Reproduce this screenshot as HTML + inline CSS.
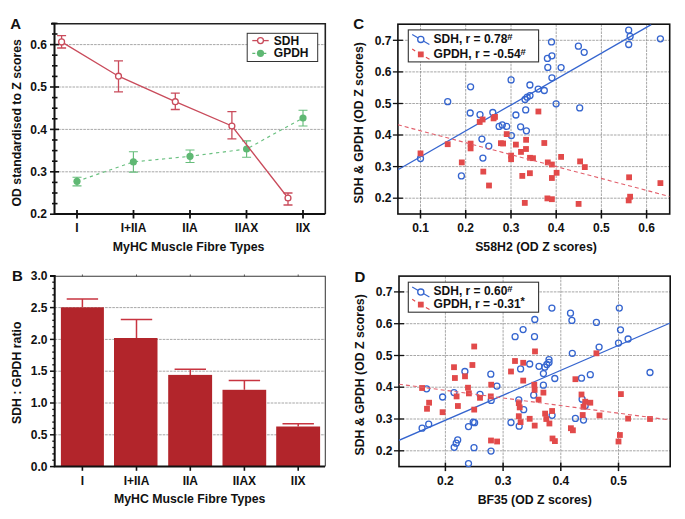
<!DOCTYPE html><html><head><meta charset="utf-8"><style>html,body{margin:0;padding:0;background:#fff;}svg{display:block;}</style></head><body>
<svg width="685" height="519" viewBox="0 0 685 519" font-family='"Liberation Sans", sans-serif' font-weight="bold" fill="#111">
<line x1="54.5" y1="171.8" x2="325.3" y2="171.8" stroke="#8a8a8a" stroke-width="0.75" stroke-dasharray="2.6,1"/>
<line x1="54.5" y1="129.4" x2="325.3" y2="129.4" stroke="#8a8a8a" stroke-width="0.75" stroke-dasharray="2.6,1"/>
<line x1="54.5" y1="87.0" x2="325.3" y2="87.0" stroke="#8a8a8a" stroke-width="0.75" stroke-dasharray="2.6,1"/>
<line x1="54.5" y1="44.6" x2="325.3" y2="44.6" stroke="#8a8a8a" stroke-width="0.75" stroke-dasharray="2.6,1"/>
<path d="M54.5 23.8H325.3V214" fill="none" stroke="#222" stroke-width="1.6"/>
<path d="M51 23.8H54.5V214H325.3" fill="none" stroke="#111" stroke-width="2"/>
<line x1="50" y1="214.2" x2="59" y2="214.2" stroke="#111" stroke-width="1.6"/>
<line x1="52" y1="203.6" x2="57.5" y2="203.6" stroke="#111" stroke-width="1.6"/>
<line x1="52" y1="193.0" x2="57.5" y2="193.0" stroke="#111" stroke-width="1.6"/>
<line x1="52" y1="182.4" x2="57.5" y2="182.4" stroke="#111" stroke-width="1.6"/>
<line x1="50" y1="171.8" x2="59" y2="171.8" stroke="#111" stroke-width="1.6"/>
<line x1="52" y1="161.2" x2="57.5" y2="161.2" stroke="#111" stroke-width="1.6"/>
<line x1="52" y1="150.6" x2="57.5" y2="150.6" stroke="#111" stroke-width="1.6"/>
<line x1="52" y1="140.0" x2="57.5" y2="140.0" stroke="#111" stroke-width="1.6"/>
<line x1="50" y1="129.4" x2="59" y2="129.4" stroke="#111" stroke-width="1.6"/>
<line x1="52" y1="118.8" x2="57.5" y2="118.8" stroke="#111" stroke-width="1.6"/>
<line x1="52" y1="108.2" x2="57.5" y2="108.2" stroke="#111" stroke-width="1.6"/>
<line x1="52" y1="97.6" x2="57.5" y2="97.6" stroke="#111" stroke-width="1.6"/>
<line x1="50" y1="87.0" x2="59" y2="87.0" stroke="#111" stroke-width="1.6"/>
<line x1="52" y1="76.4" x2="57.5" y2="76.4" stroke="#111" stroke-width="1.6"/>
<line x1="52" y1="65.8" x2="57.5" y2="65.8" stroke="#111" stroke-width="1.6"/>
<line x1="52" y1="55.2" x2="57.5" y2="55.2" stroke="#111" stroke-width="1.6"/>
<line x1="50" y1="44.6" x2="59" y2="44.6" stroke="#111" stroke-width="1.6"/>
<line x1="52" y1="34.0" x2="57.5" y2="34.0" stroke="#111" stroke-width="1.6"/>
<line x1="52" y1="23.4" x2="57.5" y2="23.4" stroke="#111" stroke-width="1.6"/>
<line x1="77" y1="210" x2="77" y2="218.5" stroke="#111" stroke-width="1.8"/>
<line x1="133.5" y1="210" x2="133.5" y2="218.5" stroke="#111" stroke-width="1.8"/>
<line x1="190" y1="210" x2="190" y2="218.5" stroke="#111" stroke-width="1.8"/>
<line x1="246.5" y1="210" x2="246.5" y2="218.5" stroke="#111" stroke-width="1.8"/>
<line x1="303" y1="210" x2="303" y2="218.5" stroke="#111" stroke-width="1.8"/>
<text x="47" y="218.4" font-size="12" text-anchor="end" >0.2</text>
<text x="47" y="176.0" font-size="12" text-anchor="end" >0.3</text>
<text x="47" y="133.6" font-size="12" text-anchor="end" >0.4</text>
<text x="47" y="91.2" font-size="12" text-anchor="end" >0.5</text>
<text x="47" y="48.8" font-size="12" text-anchor="end" >0.6</text>
<text x="77" y="231.8" font-size="12" text-anchor="middle" >I</text>
<text x="133.5" y="231.8" font-size="12" text-anchor="middle" >I+IIA</text>
<text x="190" y="231.8" font-size="12" text-anchor="middle" >IIA</text>
<text x="246.5" y="231.8" font-size="12" text-anchor="middle" >IIAX</text>
<text x="303" y="231.8" font-size="12" text-anchor="middle" >IIX</text>
<text x="188.6" y="251" font-size="12.3" text-anchor="middle" >MyHC Muscle Fibre Types</text>
<text transform="translate(21.2,122.8) rotate(-90)" font-size="12.3" text-anchor="middle">OD standardised to Z scores</text>
<text x="10.2" y="28.8" font-size="15" text-anchor="start" >A</text>
<polyline points="77,181.3 133.4,161.9 190,156.3 246.6,149 303,118" fill="none" stroke="#6ac080" stroke-width="1.15" stroke-dasharray="3.2,3.6"/>
<path d="M77 177.2V185.8M72.5 177.2H81.5M72.5 185.8H81.5" stroke="#66bd7b" stroke-width="1.15" fill="none"/>
<circle cx="77" cy="181.3" r="3.6" fill="#5fb873"/>
<path d="M133.4 151.7V172.1M128.9 151.7H137.9M128.9 172.1H137.9" stroke="#66bd7b" stroke-width="1.15" fill="none"/>
<circle cx="133.4" cy="161.9" r="3.6" fill="#5fb873"/>
<path d="M190 150V162.5M185.5 150H194.5M185.5 162.5H194.5" stroke="#66bd7b" stroke-width="1.15" fill="none"/>
<circle cx="190" cy="156.3" r="3.6" fill="#5fb873"/>
<path d="M246.6 140.9V157.2M242.1 140.9H251.1M242.1 157.2H251.1" stroke="#66bd7b" stroke-width="1.15" fill="none"/>
<circle cx="246.6" cy="149" r="3.6" fill="#5fb873"/>
<path d="M303 110.2V126M298.5 110.2H307.5M298.5 126H307.5" stroke="#66bd7b" stroke-width="1.15" fill="none"/>
<circle cx="303" cy="118" r="3.6" fill="#5fb873"/>
<polyline points="61.6,41.9 118.5,76.2 175.3,101.7 231.9,126 288,198" fill="none" stroke="#c94b5b" stroke-width="1.3"/>
<path d="M61.6 35.7V48M57.1 35.7H66.1M57.1 48H66.1" stroke="#c94b5b" stroke-width="1.3" fill="none"/>
<circle cx="61.6" cy="41.9" r="2.95" fill="#fff" stroke="#c94b5b" stroke-width="1.3"/>
<path d="M118.5 60.9V91.9M114.0 60.9H123.0M114.0 91.9H123.0" stroke="#c94b5b" stroke-width="1.3" fill="none"/>
<circle cx="118.5" cy="76.2" r="2.95" fill="#fff" stroke="#c94b5b" stroke-width="1.3"/>
<path d="M175.3 93.2V109.5M170.8 93.2H179.8M170.8 109.5H179.8" stroke="#c94b5b" stroke-width="1.3" fill="none"/>
<circle cx="175.3" cy="101.7" r="2.95" fill="#fff" stroke="#c94b5b" stroke-width="1.3"/>
<path d="M231.9 111.6V138.8M227.4 111.6H236.4M227.4 138.8H236.4" stroke="#c94b5b" stroke-width="1.3" fill="none"/>
<circle cx="231.9" cy="126" r="2.95" fill="#fff" stroke="#c94b5b" stroke-width="1.3"/>
<path d="M288 193V205M283.5 193H292.5M283.5 205H292.5" stroke="#c94b5b" stroke-width="1.3" fill="none"/>
<circle cx="288" cy="198" r="2.95" fill="#fff" stroke="#c94b5b" stroke-width="1.3"/>
<rect x="247.2" y="33.3" width="70.5" height="28.2" fill="#fff" stroke="#333" stroke-width="1"/>
<line x1="252.3" y1="40.6" x2="268.7" y2="40.6" stroke="#c94b5b" stroke-width="1.3"/>
<circle cx="260.5" cy="40.6" r="2.95" fill="#fff" stroke="#c94b5b" stroke-width="1.3"/>
<text x="273.8" y="44.9" font-size="12" text-anchor="start" >SDH</text>
<line x1="252.3" y1="53.3" x2="268.7" y2="53.3" stroke="#5fb873" stroke-width="1.3" stroke-dasharray="3,2.5"/>
<circle cx="260.5" cy="53.3" r="3.6" fill="#5fb873"/>
<text x="273.8" y="57" font-size="12" text-anchor="start" >GPDH</text>
<line x1="54.7" y1="434.8" x2="325" y2="434.8" stroke="#8a8a8a" stroke-width="0.75" stroke-dasharray="2.6,1"/>
<line x1="54.7" y1="403.0" x2="325" y2="403.0" stroke="#8a8a8a" stroke-width="0.75" stroke-dasharray="2.6,1"/>
<line x1="54.7" y1="371.2" x2="325" y2="371.2" stroke="#8a8a8a" stroke-width="0.75" stroke-dasharray="2.6,1"/>
<line x1="54.7" y1="339.4" x2="325" y2="339.4" stroke="#8a8a8a" stroke-width="0.75" stroke-dasharray="2.6,1"/>
<line x1="54.7" y1="307.6" x2="325" y2="307.6" stroke="#8a8a8a" stroke-width="0.75" stroke-dasharray="2.6,1"/>
<path d="M54.7 276.3H325.3V466.6" fill="none" stroke="#3a3a3a" stroke-width="1.05"/>
<line x1="82.4" y1="274.5" x2="82.4" y2="277" stroke="#555" stroke-width="1"/>
<line x1="136.5" y1="274.5" x2="136.5" y2="277" stroke="#555" stroke-width="1"/>
<line x1="190.3" y1="274.5" x2="190.3" y2="277" stroke="#555" stroke-width="1"/>
<line x1="244.4" y1="274.5" x2="244.4" y2="277" stroke="#555" stroke-width="1"/>
<line x1="298.2" y1="274.5" x2="298.2" y2="277" stroke="#555" stroke-width="1"/>
<path d="M82.4 307.3V299M66.7 299H98.10000000000001" stroke="#c83440" stroke-width="1.5" fill="none"/>
<rect x="60.9" y="307.3" width="43.0" height="159.3" fill="#b2252b"/>
<path d="M136.5 338V319.5M120.8 319.5H152.2" stroke="#c83440" stroke-width="1.5" fill="none"/>
<rect x="114" y="338" width="43.5" height="128.6" fill="#b2252b"/>
<path d="M190.3 374.9V369.2M174.60000000000002 369.2H206.0" stroke="#c83440" stroke-width="1.5" fill="none"/>
<rect x="168.2" y="374.9" width="43.9" height="91.7" fill="#b2252b"/>
<path d="M244.4 389.8V380.6M228.70000000000002 380.6H260.1" stroke="#c83440" stroke-width="1.5" fill="none"/>
<rect x="222.5" y="389.8" width="43.7" height="76.8" fill="#b2252b"/>
<path d="M298.2 426.5V423.8M282.5 423.8H313.9" stroke="#c83440" stroke-width="1.5" fill="none"/>
<rect x="276.2" y="426.5" width="43.9" height="40.1" fill="#b2252b"/>
<path d="M50 276H54.7V466.6H325" fill="none" stroke="#111" stroke-width="2"/>
<line x1="50" y1="466.6" x2="54.7" y2="466.6" stroke="#111" stroke-width="1.5"/>
<line x1="52.3" y1="460.2" x2="54.7" y2="460.2" stroke="#111" stroke-width="1.3"/>
<line x1="52.3" y1="453.9" x2="54.7" y2="453.9" stroke="#111" stroke-width="1.3"/>
<line x1="52.3" y1="447.5" x2="54.7" y2="447.5" stroke="#111" stroke-width="1.3"/>
<line x1="52.3" y1="441.2" x2="54.7" y2="441.2" stroke="#111" stroke-width="1.3"/>
<line x1="50" y1="434.8" x2="54.7" y2="434.8" stroke="#111" stroke-width="1.5"/>
<line x1="52.3" y1="428.4" x2="54.7" y2="428.4" stroke="#111" stroke-width="1.3"/>
<line x1="52.3" y1="422.1" x2="54.7" y2="422.1" stroke="#111" stroke-width="1.3"/>
<line x1="52.3" y1="415.7" x2="54.7" y2="415.7" stroke="#111" stroke-width="1.3"/>
<line x1="52.3" y1="409.4" x2="54.7" y2="409.4" stroke="#111" stroke-width="1.3"/>
<line x1="50" y1="403.0" x2="54.7" y2="403.0" stroke="#111" stroke-width="1.5"/>
<line x1="52.3" y1="396.6" x2="54.7" y2="396.6" stroke="#111" stroke-width="1.3"/>
<line x1="52.3" y1="390.3" x2="54.7" y2="390.3" stroke="#111" stroke-width="1.3"/>
<line x1="52.3" y1="383.9" x2="54.7" y2="383.9" stroke="#111" stroke-width="1.3"/>
<line x1="52.3" y1="377.6" x2="54.7" y2="377.6" stroke="#111" stroke-width="1.3"/>
<line x1="50" y1="371.2" x2="54.7" y2="371.2" stroke="#111" stroke-width="1.5"/>
<line x1="52.3" y1="364.8" x2="54.7" y2="364.8" stroke="#111" stroke-width="1.3"/>
<line x1="52.3" y1="358.5" x2="54.7" y2="358.5" stroke="#111" stroke-width="1.3"/>
<line x1="52.3" y1="352.1" x2="54.7" y2="352.1" stroke="#111" stroke-width="1.3"/>
<line x1="52.3" y1="345.8" x2="54.7" y2="345.8" stroke="#111" stroke-width="1.3"/>
<line x1="50" y1="339.4" x2="54.7" y2="339.4" stroke="#111" stroke-width="1.5"/>
<line x1="52.3" y1="333.0" x2="54.7" y2="333.0" stroke="#111" stroke-width="1.3"/>
<line x1="52.3" y1="326.7" x2="54.7" y2="326.7" stroke="#111" stroke-width="1.3"/>
<line x1="52.3" y1="320.3" x2="54.7" y2="320.3" stroke="#111" stroke-width="1.3"/>
<line x1="52.3" y1="314.0" x2="54.7" y2="314.0" stroke="#111" stroke-width="1.3"/>
<line x1="50" y1="307.6" x2="54.7" y2="307.6" stroke="#111" stroke-width="1.5"/>
<line x1="52.3" y1="301.2" x2="54.7" y2="301.2" stroke="#111" stroke-width="1.3"/>
<line x1="52.3" y1="294.9" x2="54.7" y2="294.9" stroke="#111" stroke-width="1.3"/>
<line x1="52.3" y1="288.5" x2="54.7" y2="288.5" stroke="#111" stroke-width="1.3"/>
<line x1="52.3" y1="282.2" x2="54.7" y2="282.2" stroke="#111" stroke-width="1.3"/>
<line x1="50" y1="275.8" x2="54.7" y2="275.8" stroke="#111" stroke-width="1.5"/>
<line x1="82.4" y1="466.6" x2="82.4" y2="470.8" stroke="#111" stroke-width="1.6"/>
<line x1="136.5" y1="466.6" x2="136.5" y2="470.8" stroke="#111" stroke-width="1.6"/>
<line x1="190.3" y1="466.6" x2="190.3" y2="470.8" stroke="#111" stroke-width="1.6"/>
<line x1="244.4" y1="466.6" x2="244.4" y2="470.8" stroke="#111" stroke-width="1.6"/>
<line x1="298.2" y1="466.6" x2="298.2" y2="470.8" stroke="#111" stroke-width="1.6"/>
<text x="47.5" y="470.8" font-size="12" text-anchor="end" >0.0</text>
<text x="47.5" y="439.0" font-size="12" text-anchor="end" >0.5</text>
<text x="47.5" y="407.2" font-size="12" text-anchor="end" >1.0</text>
<text x="47.5" y="375.4" font-size="12" text-anchor="end" >1.5</text>
<text x="47.5" y="343.6" font-size="12" text-anchor="end" >2.0</text>
<text x="47.5" y="311.8" font-size="12" text-anchor="end" >2.5</text>
<text x="47.5" y="280.0" font-size="12" text-anchor="end" >3.0</text>
<text x="82.4" y="484.7" font-size="12" text-anchor="middle" >I</text>
<text x="136.5" y="484.7" font-size="12" text-anchor="middle" >I+IIA</text>
<text x="190.3" y="484.7" font-size="12" text-anchor="middle" >IIA</text>
<text x="244.4" y="484.7" font-size="12" text-anchor="middle" >IIAX</text>
<text x="298.2" y="484.7" font-size="12" text-anchor="middle" >IIX</text>
<text x="189.7" y="503.4" font-size="12.3" text-anchor="middle" >MyHC Muscle Fibre Types</text>
<text transform="translate(20.7,372.8) rotate(-90)" font-size="12.3" text-anchor="middle">SDH : GPDH ratio</text>
<text x="12.0" y="281.2" font-size="15" text-anchor="start" >B</text>
<line x1="420.5" y1="24.2" x2="420.5" y2="214" stroke="#8a8a8a" stroke-width="0.75" stroke-dasharray="2.6,1"/>
<line x1="465.7" y1="24.2" x2="465.7" y2="214" stroke="#8a8a8a" stroke-width="0.75" stroke-dasharray="2.6,1"/>
<line x1="511.0" y1="24.2" x2="511.0" y2="214" stroke="#8a8a8a" stroke-width="0.75" stroke-dasharray="2.6,1"/>
<line x1="556.2" y1="24.2" x2="556.2" y2="214" stroke="#8a8a8a" stroke-width="0.75" stroke-dasharray="2.6,1"/>
<line x1="601.4" y1="24.2" x2="601.4" y2="214" stroke="#8a8a8a" stroke-width="0.75" stroke-dasharray="2.6,1"/>
<line x1="646.6" y1="24.2" x2="646.6" y2="214" stroke="#8a8a8a" stroke-width="0.75" stroke-dasharray="2.6,1"/>
<line x1="397.9" y1="198.2" x2="669.7" y2="198.2" stroke="#8a8a8a" stroke-width="0.75" stroke-dasharray="2.6,1"/>
<line x1="397.9" y1="166.6" x2="669.7" y2="166.6" stroke="#8a8a8a" stroke-width="0.75" stroke-dasharray="2.6,1"/>
<line x1="397.9" y1="135.0" x2="669.7" y2="135.0" stroke="#8a8a8a" stroke-width="0.75" stroke-dasharray="2.6,1"/>
<line x1="397.9" y1="103.5" x2="669.7" y2="103.5" stroke="#8a8a8a" stroke-width="0.75" stroke-dasharray="2.6,1"/>
<line x1="397.9" y1="71.9" x2="669.7" y2="71.9" stroke="#8a8a8a" stroke-width="0.75" stroke-dasharray="2.6,1"/>
<line x1="397.9" y1="40.3" x2="669.7" y2="40.3" stroke="#8a8a8a" stroke-width="0.75" stroke-dasharray="2.6,1"/>
<rect x="397.9" y="24.2" width="271.8" height="189.8" fill="none" stroke="#111" stroke-width="1.6"/>
<line x1="420.5" y1="210" x2="420.5" y2="218.5" stroke="#111" stroke-width="1.5"/>
<line x1="465.7" y1="210" x2="465.7" y2="218.5" stroke="#111" stroke-width="1.5"/>
<line x1="511.0" y1="210" x2="511.0" y2="218.5" stroke="#111" stroke-width="1.5"/>
<line x1="556.2" y1="210" x2="556.2" y2="218.5" stroke="#111" stroke-width="1.5"/>
<line x1="601.4" y1="210" x2="601.4" y2="218.5" stroke="#111" stroke-width="1.5"/>
<line x1="646.6" y1="210" x2="646.6" y2="218.5" stroke="#111" stroke-width="1.5"/>
<line x1="392.9" y1="198.2" x2="402.9" y2="198.2" stroke="#111" stroke-width="1.3"/>
<line x1="392.9" y1="166.6" x2="402.9" y2="166.6" stroke="#111" stroke-width="1.3"/>
<line x1="392.9" y1="135.0" x2="402.9" y2="135.0" stroke="#111" stroke-width="1.3"/>
<line x1="392.9" y1="103.5" x2="402.9" y2="103.5" stroke="#111" stroke-width="1.3"/>
<line x1="392.9" y1="71.9" x2="402.9" y2="71.9" stroke="#111" stroke-width="1.3"/>
<line x1="392.9" y1="40.3" x2="402.9" y2="40.3" stroke="#111" stroke-width="1.3"/>
<text x="420.5" y="231.9" font-size="12" text-anchor="middle" >0.1</text>
<text x="465.7" y="231.9" font-size="12" text-anchor="middle" >0.2</text>
<text x="511.0" y="231.9" font-size="12" text-anchor="middle" >0.3</text>
<text x="556.2" y="231.9" font-size="12" text-anchor="middle" >0.4</text>
<text x="601.4" y="231.9" font-size="12" text-anchor="middle" >0.5</text>
<text x="646.6" y="231.9" font-size="12" text-anchor="middle" >0.6</text>
<text x="391.4" y="202.4" font-size="12" text-anchor="end" >0.2</text>
<text x="391.4" y="170.8" font-size="12" text-anchor="end" >0.3</text>
<text x="391.4" y="139.2" font-size="12" text-anchor="end" >0.4</text>
<text x="391.4" y="107.7" font-size="12" text-anchor="end" >0.5</text>
<text x="391.4" y="76.1" font-size="12" text-anchor="end" >0.6</text>
<text x="391.4" y="44.5" font-size="12" text-anchor="end" >0.7</text>
<text x="536" y="251.3" font-size="12.3" text-anchor="middle" >S58H2 (OD Z scores)</text>
<text transform="translate(363.4,122.8) rotate(-90)" font-size="12.3" text-anchor="middle">SDH &amp; GPDH (OD Z scores)</text>
<text x="353.29999999999995" y="28.7" font-size="15" text-anchor="start" >C</text>
<svg x="397.9" y="24.2" width="271.8" height="189.8" viewBox="397.9 24.2 271.8 189.8" overflow="hidden">
<line x1="397.9" y1="169.8" x2="651.2" y2="24.6" stroke="#3565cf" stroke-width="1.3"/>
</svg>
<circle cx="447.7" cy="101.7" r="3.0" fill="none" stroke="#3565cf" stroke-width="1.3"/>
<circle cx="470.6" cy="86.8" r="3.0" fill="none" stroke="#3565cf" stroke-width="1.3"/>
<circle cx="511.1" cy="79.9" r="3.0" fill="none" stroke="#3565cf" stroke-width="1.3"/>
<circle cx="529.9" cy="85" r="3.0" fill="none" stroke="#3565cf" stroke-width="1.3"/>
<circle cx="470.2" cy="113" r="3.0" fill="none" stroke="#3565cf" stroke-width="1.3"/>
<circle cx="480" cy="114.7" r="3.0" fill="none" stroke="#3565cf" stroke-width="1.3"/>
<circle cx="492.8" cy="112.5" r="3.0" fill="none" stroke="#3565cf" stroke-width="1.3"/>
<circle cx="515.9" cy="115" r="3.0" fill="none" stroke="#3565cf" stroke-width="1.3"/>
<circle cx="525.7" cy="109.9" r="3.0" fill="none" stroke="#3565cf" stroke-width="1.3"/>
<circle cx="525" cy="99.4" r="3.0" fill="none" stroke="#3565cf" stroke-width="1.3"/>
<circle cx="527.2" cy="97.2" r="3.0" fill="none" stroke="#3565cf" stroke-width="1.3"/>
<circle cx="530" cy="95.6" r="3.0" fill="none" stroke="#3565cf" stroke-width="1.3"/>
<circle cx="556.1" cy="103.8" r="3.0" fill="none" stroke="#3565cf" stroke-width="1.3"/>
<circle cx="499.1" cy="126.4" r="3.0" fill="none" stroke="#3565cf" stroke-width="1.3"/>
<circle cx="502.3" cy="124.9" r="3.0" fill="none" stroke="#3565cf" stroke-width="1.3"/>
<circle cx="506.7" cy="126.4" r="3.0" fill="none" stroke="#3565cf" stroke-width="1.3"/>
<circle cx="520.6" cy="126.8" r="3.0" fill="none" stroke="#3565cf" stroke-width="1.3"/>
<circle cx="526.4" cy="130.8" r="3.0" fill="none" stroke="#3565cf" stroke-width="1.3"/>
<circle cx="511.4" cy="135.6" r="3.0" fill="none" stroke="#3565cf" stroke-width="1.3"/>
<circle cx="481.9" cy="139.1" r="3.0" fill="none" stroke="#3565cf" stroke-width="1.3"/>
<circle cx="488.8" cy="146.1" r="3.0" fill="none" stroke="#3565cf" stroke-width="1.3"/>
<circle cx="482.9" cy="158.1" r="3.0" fill="none" stroke="#3565cf" stroke-width="1.3"/>
<circle cx="420.5" cy="158.5" r="3.0" fill="none" stroke="#3565cf" stroke-width="1.3"/>
<circle cx="461.4" cy="175.9" r="3.0" fill="none" stroke="#3565cf" stroke-width="1.3"/>
<circle cx="551.5" cy="41.9" r="3.0" fill="none" stroke="#3565cf" stroke-width="1.3"/>
<circle cx="578.4" cy="46.2" r="3.0" fill="none" stroke="#3565cf" stroke-width="1.3"/>
<circle cx="584.2" cy="52.3" r="3.0" fill="none" stroke="#3565cf" stroke-width="1.3"/>
<circle cx="551.9" cy="55.8" r="3.0" fill="none" stroke="#3565cf" stroke-width="1.3"/>
<circle cx="547.4" cy="58.4" r="3.0" fill="none" stroke="#3565cf" stroke-width="1.3"/>
<circle cx="547.8" cy="67.4" r="3.0" fill="none" stroke="#3565cf" stroke-width="1.3"/>
<circle cx="561.1" cy="67.6" r="3.0" fill="none" stroke="#3565cf" stroke-width="1.3"/>
<circle cx="551.9" cy="77.8" r="3.0" fill="none" stroke="#3565cf" stroke-width="1.3"/>
<circle cx="538.2" cy="89.1" r="3.0" fill="none" stroke="#3565cf" stroke-width="1.3"/>
<circle cx="544.3" cy="90.5" r="3.0" fill="none" stroke="#3565cf" stroke-width="1.3"/>
<circle cx="579.7" cy="107.9" r="3.0" fill="none" stroke="#3565cf" stroke-width="1.3"/>
<circle cx="628.7" cy="30.2" r="3.0" fill="none" stroke="#3565cf" stroke-width="1.3"/>
<circle cx="630.1" cy="36.4" r="3.0" fill="none" stroke="#3565cf" stroke-width="1.3"/>
<circle cx="628.7" cy="44.5" r="3.0" fill="none" stroke="#3565cf" stroke-width="1.3"/>
<circle cx="660.4" cy="38.8" r="3.0" fill="none" stroke="#3565cf" stroke-width="1.3"/>
<rect x="417.6" y="150.5" width="5.8" height="5.8" fill="#e24a4a"/>
<rect x="444.8" y="141.3" width="5.8" height="5.8" fill="#e24a4a"/>
<rect x="458.9" y="159.5" width="5.8" height="5.8" fill="#e24a4a"/>
<rect x="467.7" y="140.7" width="5.8" height="5.8" fill="#e24a4a"/>
<rect x="467.7" y="145.5" width="5.8" height="5.8" fill="#e24a4a"/>
<rect x="476.8" y="119.1" width="5.8" height="5.8" fill="#e24a4a"/>
<rect x="479.7" y="116.6" width="5.8" height="5.8" fill="#e24a4a"/>
<rect x="490.7" y="115.5" width="5.8" height="5.8" fill="#e24a4a"/>
<rect x="492.1" y="114.0" width="5.8" height="5.8" fill="#e24a4a"/>
<rect x="480.4" y="168.7" width="5.8" height="5.8" fill="#e24a4a"/>
<rect x="486.1" y="182.6" width="5.8" height="5.8" fill="#e24a4a"/>
<rect x="498.0" y="140.3" width="5.8" height="5.8" fill="#e24a4a"/>
<rect x="500.2" y="140.6" width="5.8" height="5.8" fill="#e24a4a"/>
<rect x="503.8" y="131.2" width="5.8" height="5.8" fill="#e24a4a"/>
<rect x="508.2" y="152.7" width="5.8" height="5.8" fill="#e24a4a"/>
<rect x="508.2" y="156.3" width="5.8" height="5.8" fill="#e24a4a"/>
<rect x="513.0" y="141.7" width="5.8" height="5.8" fill="#e24a4a"/>
<rect x="518.1" y="149.0" width="5.8" height="5.8" fill="#e24a4a"/>
<rect x="523.2" y="136.9" width="5.8" height="5.8" fill="#e24a4a"/>
<rect x="523.1" y="146.1" width="5.8" height="5.8" fill="#e24a4a"/>
<rect x="527.1" y="154.9" width="5.8" height="5.8" fill="#e24a4a"/>
<rect x="530.1" y="155.3" width="5.8" height="5.8" fill="#e24a4a"/>
<rect x="519.4" y="173.0" width="5.8" height="5.8" fill="#e24a4a"/>
<rect x="527.0" y="170.3" width="5.8" height="5.8" fill="#e24a4a"/>
<rect x="521.9" y="200.0" width="5.8" height="5.8" fill="#e24a4a"/>
<rect x="535.5" y="108.6" width="5.8" height="5.8" fill="#e24a4a"/>
<rect x="541.4" y="140.1" width="5.8" height="5.8" fill="#e24a4a"/>
<rect x="558.2" y="154.0" width="5.8" height="5.8" fill="#e24a4a"/>
<rect x="544.9" y="159.5" width="5.8" height="5.8" fill="#e24a4a"/>
<rect x="549.0" y="161.6" width="5.8" height="5.8" fill="#e24a4a"/>
<rect x="553.7" y="169.9" width="5.8" height="5.8" fill="#e24a4a"/>
<rect x="549.0" y="175.1" width="5.8" height="5.8" fill="#e24a4a"/>
<rect x="577.2" y="158.5" width="5.8" height="5.8" fill="#e24a4a"/>
<rect x="581.9" y="164.2" width="5.8" height="5.8" fill="#e24a4a"/>
<rect x="626.2" y="174.4" width="5.8" height="5.8" fill="#e24a4a"/>
<rect x="657.5" y="180.2" width="5.8" height="5.8" fill="#e24a4a"/>
<rect x="544.5" y="195.5" width="5.8" height="5.8" fill="#e24a4a"/>
<rect x="549.0" y="196.3" width="5.8" height="5.8" fill="#e24a4a"/>
<rect x="575.7" y="201.0" width="5.8" height="5.8" fill="#e24a4a"/>
<rect x="627.2" y="193.8" width="5.8" height="5.8" fill="#e24a4a"/>
<rect x="625.8" y="197.5" width="5.8" height="5.8" fill="#e24a4a"/>
<svg x="397.9" y="24.2" width="271.8" height="189.8" viewBox="397.9 24.2 271.8 189.8" overflow="hidden">
<line x1="397.9" y1="124.8" x2="669.7" y2="196.5" stroke="#e2606c" stroke-width="1.1" stroke-dasharray="4,3"/>
</svg>
<rect x="408.3" y="29.9" width="130.3" height="32.0" fill="#fff" stroke="#333" stroke-width="1.1"/>
<line x1="412.2" y1="34.4" x2="429.4" y2="44.4" stroke="#3565cf" stroke-width="1.2"/>
<circle cx="420.8" cy="39.4" r="3.1" fill="#fff" stroke="#3565cf" stroke-width="1.3"/>
<path d="M412.2 49.0L415.2 51.0M425.9 57.3L429.5 59.3" stroke="#e24a4a" stroke-width="1.1" fill="none"/>
<rect x="417.9" y="51.5" width="5.8" height="5.8" fill="#e24a4a"/>
<text x="433.6" y="43.3" font-size="12" text-anchor="start" >SDH, r = 0.78</text>
<text x="507.3" y="40.3" font-size="9.5">#</text>
<text x="433.6" y="57.7" font-size="12" text-anchor="start" >GPDH, r = -0.54</text>
<text x="520.6" y="55.1" font-size="9.5">#</text>
<line x1="445.4" y1="276.1" x2="445.4" y2="466.6" stroke="#8a8a8a" stroke-width="0.75" stroke-dasharray="2.6,1"/>
<line x1="503.1" y1="276.1" x2="503.1" y2="466.6" stroke="#8a8a8a" stroke-width="0.75" stroke-dasharray="2.6,1"/>
<line x1="560.8" y1="276.1" x2="560.8" y2="466.6" stroke="#8a8a8a" stroke-width="0.75" stroke-dasharray="2.6,1"/>
<line x1="618.5" y1="276.1" x2="618.5" y2="466.6" stroke="#8a8a8a" stroke-width="0.75" stroke-dasharray="2.6,1"/>
<line x1="399" y1="450.8" x2="670.2" y2="450.8" stroke="#8a8a8a" stroke-width="0.75" stroke-dasharray="2.6,1"/>
<line x1="399" y1="419.0" x2="670.2" y2="419.0" stroke="#8a8a8a" stroke-width="0.75" stroke-dasharray="2.6,1"/>
<line x1="399" y1="387.2" x2="670.2" y2="387.2" stroke="#8a8a8a" stroke-width="0.75" stroke-dasharray="2.6,1"/>
<line x1="399" y1="355.5" x2="670.2" y2="355.5" stroke="#8a8a8a" stroke-width="0.75" stroke-dasharray="2.6,1"/>
<line x1="399" y1="323.7" x2="670.2" y2="323.7" stroke="#8a8a8a" stroke-width="0.75" stroke-dasharray="2.6,1"/>
<line x1="399" y1="291.9" x2="670.2" y2="291.9" stroke="#8a8a8a" stroke-width="0.75" stroke-dasharray="2.6,1"/>
<rect x="399" y="276.1" width="271.2" height="190.5" fill="none" stroke="#111" stroke-width="1.6"/>
<line x1="445.4" y1="462.6" x2="445.4" y2="471.1" stroke="#111" stroke-width="1.5"/>
<line x1="503.1" y1="462.6" x2="503.1" y2="471.1" stroke="#111" stroke-width="1.5"/>
<line x1="560.8" y1="462.6" x2="560.8" y2="471.1" stroke="#111" stroke-width="1.5"/>
<line x1="618.5" y1="462.6" x2="618.5" y2="471.1" stroke="#111" stroke-width="1.5"/>
<line x1="394" y1="450.8" x2="404" y2="450.8" stroke="#111" stroke-width="1.3"/>
<line x1="394" y1="419.0" x2="404" y2="419.0" stroke="#111" stroke-width="1.3"/>
<line x1="394" y1="387.2" x2="404" y2="387.2" stroke="#111" stroke-width="1.3"/>
<line x1="394" y1="355.5" x2="404" y2="355.5" stroke="#111" stroke-width="1.3"/>
<line x1="394" y1="323.7" x2="404" y2="323.7" stroke="#111" stroke-width="1.3"/>
<line x1="394" y1="291.9" x2="404" y2="291.9" stroke="#111" stroke-width="1.3"/>
<text x="445.4" y="484.6" font-size="12" text-anchor="middle" >0.2</text>
<text x="503.1" y="484.6" font-size="12" text-anchor="middle" >0.3</text>
<text x="560.8" y="484.6" font-size="12" text-anchor="middle" >0.4</text>
<text x="618.5" y="484.6" font-size="12" text-anchor="middle" >0.5</text>
<text x="392.5" y="455.0" font-size="12" text-anchor="end" >0.2</text>
<text x="392.5" y="423.2" font-size="12" text-anchor="end" >0.3</text>
<text x="392.5" y="391.4" font-size="12" text-anchor="end" >0.4</text>
<text x="392.5" y="359.7" font-size="12" text-anchor="end" >0.5</text>
<text x="392.5" y="327.9" font-size="12" text-anchor="end" >0.6</text>
<text x="392.5" y="296.1" font-size="12" text-anchor="end" >0.7</text>
<text x="534.7" y="503.90000000000003" font-size="12.3" text-anchor="middle" >BF35 (OD Z scores)</text>
<text transform="translate(364.4,374.9) rotate(-90)" font-size="12.3" text-anchor="middle">SDH &amp; GPDH (OD Z scores)</text>
<text x="354.4" y="281.5" font-size="15" text-anchor="start" >D</text>
<svg x="399" y="276.1" width="271.2" height="190.5" viewBox="399 276.1 271.2 190.5" overflow="hidden">
<line x1="399" y1="440.3" x2="670.2" y2="323" stroke="#3565cf" stroke-width="1.3"/>
</svg>
<circle cx="534.8" cy="319.5" r="3.0" fill="none" stroke="#3565cf" stroke-width="1.3"/>
<circle cx="523.1" cy="329.6" r="3.0" fill="none" stroke="#3565cf" stroke-width="1.3"/>
<circle cx="515.1" cy="336.7" r="3.0" fill="none" stroke="#3565cf" stroke-width="1.3"/>
<circle cx="534.5" cy="336.7" r="3.0" fill="none" stroke="#3565cf" stroke-width="1.3"/>
<circle cx="464.9" cy="371.5" r="3.0" fill="none" stroke="#3565cf" stroke-width="1.3"/>
<circle cx="490.8" cy="374.2" r="3.0" fill="none" stroke="#3565cf" stroke-width="1.3"/>
<circle cx="520.6" cy="368.9" r="3.0" fill="none" stroke="#3565cf" stroke-width="1.3"/>
<circle cx="529.7" cy="364" r="3.0" fill="none" stroke="#3565cf" stroke-width="1.3"/>
<circle cx="539" cy="366.3" r="3.0" fill="none" stroke="#3565cf" stroke-width="1.3"/>
<circle cx="544.8" cy="367.2" r="3.0" fill="none" stroke="#3565cf" stroke-width="1.3"/>
<circle cx="546.9" cy="364.5" r="3.0" fill="none" stroke="#3565cf" stroke-width="1.3"/>
<circle cx="549" cy="362.4" r="3.0" fill="none" stroke="#3565cf" stroke-width="1.3"/>
<circle cx="549" cy="359.6" r="3.0" fill="none" stroke="#3565cf" stroke-width="1.3"/>
<circle cx="543.4" cy="373.6" r="3.0" fill="none" stroke="#3565cf" stroke-width="1.3"/>
<circle cx="554.8" cy="378.5" r="3.0" fill="none" stroke="#3565cf" stroke-width="1.3"/>
<circle cx="543.4" cy="385.2" r="3.0" fill="none" stroke="#3565cf" stroke-width="1.3"/>
<circle cx="533.7" cy="395.2" r="3.0" fill="none" stroke="#3565cf" stroke-width="1.3"/>
<circle cx="518.8" cy="399.9" r="3.0" fill="none" stroke="#3565cf" stroke-width="1.3"/>
<circle cx="523.7" cy="409.7" r="3.0" fill="none" stroke="#3565cf" stroke-width="1.3"/>
<circle cx="552.1" cy="415.3" r="3.0" fill="none" stroke="#3565cf" stroke-width="1.3"/>
<circle cx="551.9" cy="308.1" r="3.0" fill="none" stroke="#3565cf" stroke-width="1.3"/>
<circle cx="570.5" cy="313.2" r="3.0" fill="none" stroke="#3565cf" stroke-width="1.3"/>
<circle cx="571.9" cy="320.4" r="3.0" fill="none" stroke="#3565cf" stroke-width="1.3"/>
<circle cx="596.4" cy="322.4" r="3.0" fill="none" stroke="#3565cf" stroke-width="1.3"/>
<circle cx="619.3" cy="308.1" r="3.0" fill="none" stroke="#3565cf" stroke-width="1.3"/>
<circle cx="620.5" cy="329.8" r="3.0" fill="none" stroke="#3565cf" stroke-width="1.3"/>
<circle cx="618.5" cy="343.1" r="3.0" fill="none" stroke="#3565cf" stroke-width="1.3"/>
<circle cx="628.1" cy="339" r="3.0" fill="none" stroke="#3565cf" stroke-width="1.3"/>
<circle cx="599.1" cy="347.1" r="3.0" fill="none" stroke="#3565cf" stroke-width="1.3"/>
<circle cx="572.3" cy="353.3" r="3.0" fill="none" stroke="#3565cf" stroke-width="1.3"/>
<circle cx="590.3" cy="374.7" r="3.0" fill="none" stroke="#3565cf" stroke-width="1.3"/>
<circle cx="650" cy="372.5" r="3.0" fill="none" stroke="#3565cf" stroke-width="1.3"/>
<circle cx="426.6" cy="388.8" r="3.0" fill="none" stroke="#3565cf" stroke-width="1.3"/>
<circle cx="442.6" cy="397" r="3.0" fill="none" stroke="#3565cf" stroke-width="1.3"/>
<circle cx="454" cy="392.6" r="3.0" fill="none" stroke="#3565cf" stroke-width="1.3"/>
<circle cx="480" cy="394.3" r="3.0" fill="none" stroke="#3565cf" stroke-width="1.3"/>
<circle cx="491.2" cy="400.4" r="3.0" fill="none" stroke="#3565cf" stroke-width="1.3"/>
<circle cx="496.9" cy="386.1" r="3.0" fill="none" stroke="#3565cf" stroke-width="1.3"/>
<circle cx="422.1" cy="428.2" r="3.0" fill="none" stroke="#3565cf" stroke-width="1.3"/>
<circle cx="428.7" cy="424.2" r="3.0" fill="none" stroke="#3565cf" stroke-width="1.3"/>
<circle cx="468.5" cy="426.6" r="3.0" fill="none" stroke="#3565cf" stroke-width="1.3"/>
<circle cx="473.2" cy="422.1" r="3.0" fill="none" stroke="#3565cf" stroke-width="1.3"/>
<circle cx="474.6" cy="422.7" r="3.0" fill="none" stroke="#3565cf" stroke-width="1.3"/>
<circle cx="457.7" cy="439.9" r="3.0" fill="none" stroke="#3565cf" stroke-width="1.3"/>
<circle cx="456.2" cy="443.2" r="3.0" fill="none" stroke="#3565cf" stroke-width="1.3"/>
<circle cx="454.2" cy="447.3" r="3.0" fill="none" stroke="#3565cf" stroke-width="1.3"/>
<circle cx="474" cy="447.7" r="3.0" fill="none" stroke="#3565cf" stroke-width="1.3"/>
<circle cx="491" cy="451.1" r="3.0" fill="none" stroke="#3565cf" stroke-width="1.3"/>
<circle cx="468.5" cy="463.6" r="3.0" fill="none" stroke="#3565cf" stroke-width="1.3"/>
<circle cx="511" cy="422.5" r="3.0" fill="none" stroke="#3565cf" stroke-width="1.3"/>
<circle cx="519.2" cy="426.2" r="3.0" fill="none" stroke="#3565cf" stroke-width="1.3"/>
<circle cx="581.5" cy="378.2" r="3.0" fill="none" stroke="#3565cf" stroke-width="1.3"/>
<circle cx="582.1" cy="399.2" r="3.0" fill="none" stroke="#3565cf" stroke-width="1.3"/>
<circle cx="585.2" cy="405.8" r="3.0" fill="none" stroke="#3565cf" stroke-width="1.3"/>
<circle cx="575.4" cy="418.4" r="3.0" fill="none" stroke="#3565cf" stroke-width="1.3"/>
<circle cx="583.5" cy="420.1" r="3.0" fill="none" stroke="#3565cf" stroke-width="1.3"/>
<rect x="471.3" y="343.6" width="5.8" height="5.8" fill="#e24a4a"/>
<rect x="451.1" y="364.3" width="5.8" height="5.8" fill="#e24a4a"/>
<rect x="469.5" y="362.1" width="5.8" height="5.8" fill="#e24a4a"/>
<rect x="452.0" y="375.1" width="5.8" height="5.8" fill="#e24a4a"/>
<rect x="462.1" y="373.4" width="5.8" height="5.8" fill="#e24a4a"/>
<rect x="512.1" y="358.1" width="5.8" height="5.8" fill="#e24a4a"/>
<rect x="520.3" y="359.9" width="5.8" height="5.8" fill="#e24a4a"/>
<rect x="508.1" y="368.6" width="5.8" height="5.8" fill="#e24a4a"/>
<rect x="532.1" y="348.5" width="5.8" height="5.8" fill="#e24a4a"/>
<rect x="520.3" y="377.7" width="5.8" height="5.8" fill="#e24a4a"/>
<rect x="465.1" y="384.8" width="5.8" height="5.8" fill="#e24a4a"/>
<rect x="466.0" y="390.5" width="5.8" height="5.8" fill="#e24a4a"/>
<rect x="453.7" y="393.5" width="5.8" height="5.8" fill="#e24a4a"/>
<rect x="477.1" y="394.9" width="5.8" height="5.8" fill="#e24a4a"/>
<rect x="488.3" y="381.8" width="5.8" height="5.8" fill="#e24a4a"/>
<rect x="487.9" y="393.5" width="5.8" height="5.8" fill="#e24a4a"/>
<rect x="455.0" y="403.1" width="5.8" height="5.8" fill="#e24a4a"/>
<rect x="471.3" y="406.7" width="5.8" height="5.8" fill="#e24a4a"/>
<rect x="439.7" y="409.3" width="5.8" height="5.8" fill="#e24a4a"/>
<rect x="531.4" y="381.8" width="5.8" height="5.8" fill="#e24a4a"/>
<rect x="531.7" y="387.0" width="5.8" height="5.8" fill="#e24a4a"/>
<rect x="540.5" y="389.7" width="5.8" height="5.8" fill="#e24a4a"/>
<rect x="535.7" y="396.7" width="5.8" height="5.8" fill="#e24a4a"/>
<rect x="515.9" y="400.2" width="5.8" height="5.8" fill="#e24a4a"/>
<rect x="516.8" y="404.5" width="5.8" height="5.8" fill="#e24a4a"/>
<rect x="549.2" y="408.1" width="5.8" height="5.8" fill="#e24a4a"/>
<rect x="542.2" y="410.7" width="5.8" height="5.8" fill="#e24a4a"/>
<rect x="515.9" y="413.3" width="5.8" height="5.8" fill="#e24a4a"/>
<rect x="526.8" y="415.9" width="5.8" height="5.8" fill="#e24a4a"/>
<rect x="419.2" y="385.1" width="5.8" height="5.8" fill="#e24a4a"/>
<rect x="426.2" y="399.8" width="5.8" height="5.8" fill="#e24a4a"/>
<rect x="424.1" y="405.9" width="5.8" height="5.8" fill="#e24a4a"/>
<rect x="488.1" y="437.6" width="5.8" height="5.8" fill="#e24a4a"/>
<rect x="494.2" y="438.6" width="5.8" height="5.8" fill="#e24a4a"/>
<rect x="517.7" y="419.2" width="5.8" height="5.8" fill="#e24a4a"/>
<rect x="531.8" y="422.7" width="5.8" height="5.8" fill="#e24a4a"/>
<rect x="593.5" y="350.4" width="5.8" height="5.8" fill="#e24a4a"/>
<rect x="572.5" y="376.3" width="5.8" height="5.8" fill="#e24a4a"/>
<rect x="578.6" y="391.6" width="5.8" height="5.8" fill="#e24a4a"/>
<rect x="582.3" y="398.8" width="5.8" height="5.8" fill="#e24a4a"/>
<rect x="587.4" y="399.8" width="5.8" height="5.8" fill="#e24a4a"/>
<rect x="580.6" y="403.9" width="5.8" height="5.8" fill="#e24a4a"/>
<rect x="579.8" y="412.1" width="5.8" height="5.8" fill="#e24a4a"/>
<rect x="596.6" y="412.5" width="5.8" height="5.8" fill="#e24a4a"/>
<rect x="618.0" y="391.2" width="5.8" height="5.8" fill="#e24a4a"/>
<rect x="543.4" y="416.1" width="5.8" height="5.8" fill="#e24a4a"/>
<rect x="546.5" y="420.6" width="5.8" height="5.8" fill="#e24a4a"/>
<rect x="549.6" y="435.6" width="5.8" height="5.8" fill="#e24a4a"/>
<rect x="552.0" y="438.2" width="5.8" height="5.8" fill="#e24a4a"/>
<rect x="568.0" y="425.3" width="5.8" height="5.8" fill="#e24a4a"/>
<rect x="570.0" y="427.4" width="5.8" height="5.8" fill="#e24a4a"/>
<rect x="617.0" y="432.1" width="5.8" height="5.8" fill="#e24a4a"/>
<rect x="615.6" y="438.6" width="5.8" height="5.8" fill="#e24a4a"/>
<rect x="625.2" y="415.7" width="5.8" height="5.8" fill="#e24a4a"/>
<rect x="647.1" y="416.1" width="5.8" height="5.8" fill="#e24a4a"/>
<svg x="399" y="276.1" width="271.2" height="190.5" viewBox="399 276.1 271.2 190.5" overflow="hidden">
<line x1="399" y1="384.2" x2="670.2" y2="420" stroke="#e2606c" stroke-width="1.1" stroke-dasharray="4,3"/>
</svg>
<rect x="408.3" y="282.2" width="130.3" height="30.0" fill="#fff" stroke="#333" stroke-width="1.1"/>
<line x1="412.2" y1="287.1" x2="429.4" y2="297.1" stroke="#3565cf" stroke-width="1.2"/>
<circle cx="420.8" cy="292.1" r="3.1" fill="#fff" stroke="#3565cf" stroke-width="1.3"/>
<path d="M412.2 299.2L415.2 301.2M425.9 307.5L429.5 309.5" stroke="#e24a4a" stroke-width="1.1" fill="none"/>
<rect x="417.9" y="301.7" width="5.8" height="5.8" fill="#e24a4a"/>
<text x="433.6" y="295" font-size="12" text-anchor="start" >SDH, r = 0.60</text>
<text x="507.3" y="292" font-size="9.5">#</text>
<text x="433.6" y="307.7" font-size="12" text-anchor="start" >GPDH, r = -0.31</text>
<text x="520.6" y="305.09999999999997" font-size="11">*</text>
</svg></body></html>
